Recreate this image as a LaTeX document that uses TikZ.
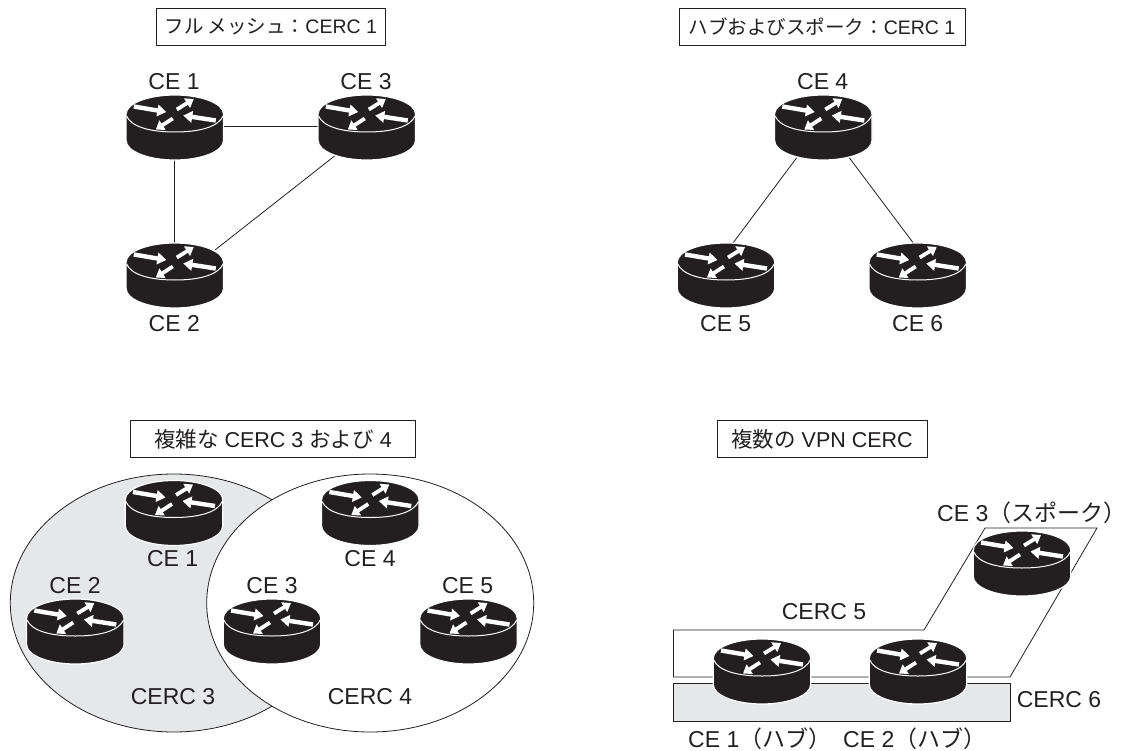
\documentclass[tikz,border=0pt]{standalone}
\usepackage{fontspec}
\setmainfont{Liberation Sans}
\newfontfamily\cjk{Noto Sans CJK JP}
\usetikzlibrary{arrows.meta,calc,shapes.geometric}
\definecolor{ink}{HTML}{231F20}
\definecolor{panel}{HTML}{E6E7E8}
\newcommand{\jp}[1]{{\cjk #1}}
\pgfdeclarelayer{back}
\pgfsetlayers{back,main}
\tikzset{
  x=1pt,y=-1pt,
  lab/.style={text=ink,inner sep=0pt,font=\fontsize{23}{27}\selectfont},
  labl/.style={lab,anchor=base west},
  titlebox/.style={draw=ink,line width=0.8pt,fill=white,text=ink,inner sep=0pt,minimum height=37.5pt,anchor=center},
  link/.style={draw=ink,line width=0.8pt},
  outline/.style={draw=ink,line width=0.8pt},
  bigarrow/.style={draw=white,line width=4.4pt,-{Triangle[length=9pt,width=11.5pt]}},
  smallarrow/.style={draw=white,line width=3.8pt,-{Triangle[length=8pt,width=11pt]}},
  router/.pic={
    \path[fill=ink,draw=white,line width=1.2pt]
      (-48.7,-13.5) .. controls (-48.7,-24) and (-26.9,-32.5) .. (0,-32.5)
      .. controls (26.9,-32.5) and (48.7,-24) .. (48.7,-13.5) -- (48.7,13)
      .. controls (48.7,23.8) and (26.9,32.5) .. (0,32.5)
      .. controls (-26.9,32.5) and (-48.7,23.8) .. (-48.7,13) -- cycle;
    \draw[white,line width=1pt]
      (-48.2,-11.5) .. controls (-44,-1.5) and (-26.9,4.5) .. (0,4.5)
      .. controls (26.9,4.5) and (44,-1.5) .. (48.2,-11.5);
    \draw[bigarrow] (-41,-21) -- (-8.5,-15.5);
    \draw[smallarrow] (2,-18) -- (19,-28.5);
    \draw[bigarrow] (41,-7) -- (8.5,-12);
    \draw[smallarrow] (-2,-9) -- (-19,2);
    \node[inner sep=0pt,minimum width=97pt,minimum height=65pt] (-c) at (0,0) {};
  }
}
\begin{document}
\begin{tikzpicture}
\useasboundingbox (0,0) rectangle (1131,751);

% titles
\node[titlebox,minimum width=228.5pt,font=\fontsize{19.5}{23}\selectfont] (t1) at (270.8,27) {\jp{フル メッシュ：}CERC 1};
\node[titlebox,minimum width=286pt,font=\fontsize{19.5}{23}\selectfont] (t2) at (822,27) {\jp{ハブおよびスポーク：}CERC 1};
\node[titlebox,minimum width=285.5pt,font=\fontsize{21.5}{25}\selectfont] (t3) at (273,439) {\jp{複雑な} CERC 3 \jp{および} 4};
\node[titlebox,minimum width=210pt,font=\fontsize{21.5}{25}\selectfont] (t4) at (822,439) {\jp{複数の} VPN CERC};

% overlapping CERC 3 / CERC 4 regions
\node[ellipse,draw=ink,line width=0.8pt,fill=panel,inner sep=0pt,outer sep=0pt,minimum width=327pt,minimum height=258pt] (e3) at (173.8,603) {};
\node[ellipse,draw=ink,line width=0.8pt,fill=white,inner sep=0pt,outer sep=0pt,minimum width=327pt,minimum height=258pt] (e4) at (370.2,603) {};

% multi-VPN regions
\draw[outline] (673.5,630) -- (924,630) -- (985,528) -- (1097,528) -- (1010,677) -- (673.5,677) -- cycle;
\node[draw=ink,line width=0.8pt,fill=panel,inner sep=0pt,minimum width=336.5pt,minimum height=38pt] (r6) at (841.8,702) {};

% routers: full mesh
\pic (a1) at (174.8,127.5) {router};
\pic (a3) at (366.8,127.5) {router};
\pic (a2) at (174.8,275.5) {router};
% routers: hub and spoke
\pic (b4) at (823.3,127.5) {router};
\pic (b5) at (726,275.5) {router};
\pic (b6) at (917.7,275.5) {router};
% routers: complex
\pic (c1) at (174,513) {router};
\pic (c4) at (370.3,513) {router};
\pic (c2) at (75.3,631.5) {router};
\pic (c3) at (272,631.5) {router};
\pic (c5) at (468.5,631.5) {router};
% routers: multiple VPN
\pic (d1) at (762,671.5) {router};
\pic (d2) at (918,671.5) {router};
\pic (d3) at (1022,563.5) {router};

% connectors
\begin{pgfonlayer}{back}
\draw[link] ($(a1-c.center)+(0,-1.2)$) -- ($(a3-c.center)+(0,-1.2)$);
\draw[link] (a1-c.center) -- (a2-c.center);
\draw[link] ($(a2-c.center)+(40.2,-25.5)$) -- ($(a3-c.center)+(-31.8,28.2)$);
\draw[link] ($(b4-c.center)+(-26.6,30.2)$) -- ($(b5-c.center)+(7,-32.5)$);
\draw[link] ($(b4-c.center)+(26,30.2)$) -- ($(b6-c.center)+(-4.4,-32.5)$);
\end{pgfonlayer}

% labels
\node[lab] (la1) at (174,82) {CE 1};
\node[lab] (la3) at (366,82) {CE 3};
\node[lab] (la2) at (174.3,323.5) {CE 2};
\node[lab] (lb4) at (822.7,82) {CE 4};
\node[lab] (lb5) at (725.7,323.5) {CE 5};
\node[lab] (lb6) at (917.7,323.5) {CE 6};
\node[lab] (lc1) at (172.7,559) {CE 1};
\node[lab] (lc2) at (75,586) {CE 2};
\node[lab] (lc3) at (272,586) {CE 3};
\node[lab] (lc4) at (370,559) {CE 4};
\node[lab] (lc5) at (467.7,586) {CE 5};
\node[lab] (lr3) at (173,697) {CERC 3};
\node[lab] (lr4) at (370,697) {CERC 4};
\node[lab] (lr5) at (824,612) {CERC 5};
\node[lab] (lr6) at (1059,700) {CERC 6};
\node[labl] (ld3) at (937,521) {CE 3\jp{（スポーク）}};
\node[labl] (ld1) at (688,747) {CE 1\jp{（ハブ）}};
\node[labl] (ld2) at (843,747) {CE 2\jp{（ハブ）}};
\end{tikzpicture}
\end{document}
